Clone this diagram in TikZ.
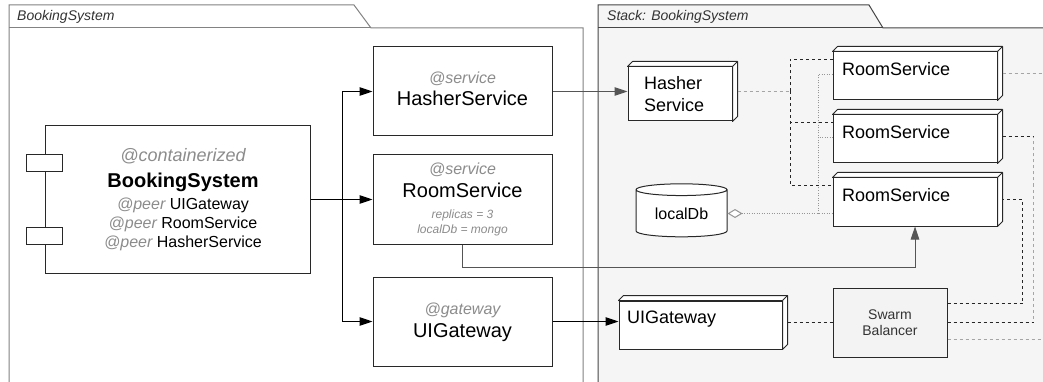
\documentclass[tikz,border=0pt]{standalone}
\usepackage{fontspec}
\setmainfont{Liberation Sans}
\usetikzlibrary{arrows.meta,positioning,shapes.geometric,calc}
\definecolor{pkgclr}{RGB}{130,130,130}
\definecolor{stackbg}{RGB}{245,245,245}
\definecolor{stackbdr}{RGB}{70,70,70}
\definecolor{annclr}{RGB}{140,140,140}
\definecolor{boxbdr}{RGB}{40,40,40}
\definecolor{lnkclr}{RGB}{85,85,85}
\definecolor{softdash}{RGB}{165,165,165}
\definecolor{dotclr}{RGB}{150,150,150}
\definecolor{sbfill}{RGB}{243,243,243}
\newcommand{\fs}[2]{\fontsize{#1}{#2}\selectfont\lineskiplimit=-50pt}
\newcommand{\ann}[1]{{\itshape\color{annclr}#1}}
\newcommand{\pad}{\hspace*{11pt}}
\tikzset{
  lpkg/.style={draw=pkgclr,fill=white,line width=1pt},
  rpkg/.style={draw=stackbdr,fill=stackbg,line width=1pt},
  pkglbl/.style={font=\itshape\fs{14}{16},text=black!80,anchor=base west,inner sep=0pt},
  svcbox/.style={rectangle,draw=boxbdr,fill=white,line width=1pt,
    minimum width=179pt,minimum height=89pt,align=center,inner sep=0pt,
    font=\fs{16}{20}},
  compbox/.style={svcbox,minimum width=265pt,minimum height=147pt,font=\fs{16}{19}},
  portbox/.style={rectangle,draw=boxbdr,fill=white,line width=1pt,
    minimum width=36pt,minimum height=17pt,inner sep=0pt},
  dnode/.style={rectangle,draw=boxbdr,fill=white,line width=1pt,align=left,
    font=\fs{18}{22},inner ysep=2pt},
  rsnode/.style={dnode,inner xsep=9pt,text width=146pt,text height=21.4pt,text depth=22.6pt},
  uinode/.style={dnode,inner xsep=8pt,text width=147pt,text height=20.4pt,text depth=23.6pt},
  hnode/.style={dnode,inner xsep=16pt,inner ysep=0pt,text width=72pt,minimum height=54pt},
  depth/.style={draw=boxbdr,fill=white,line width=1pt,line join=round},
  dbnode/.style={cylinder,shape border rotate=90,aspect=0.22,draw=boxbdr,fill=white,
    line width=1pt,minimum width=91pt,minimum height=53pt,inner sep=0pt,font=\fs{16}{20}},
  sbnode/.style={rectangle,draw=boxbdr,fill=sbfill,line width=1pt,minimum width=114pt,
    minimum height=69pt,align=center,font=\fs{14}{16},text=black!80},
  lnk/.style={draw=black,line width=1pt},
  arr/.style={-{Triangle[length=13pt,width=8.5pt]},line width=1pt,color=black},
  garr/.style={arr,color=lnkclr},
  kdash/.style={line width=1pt,color=black!85,dash pattern=on 3pt off 3pt},
  gdash/.style={line width=1pt,color=softdash,dash pattern=on 3pt off 3pt},
  dotl/.style={line width=1pt,color=dotclr,dash pattern=on 1pt off 1.5pt},
}
\begin{document}
\begin{tikzpicture}[x=1pt,y=-1pt]
  \useasboundingbox (0,0) rectangle (1043,382);
  \clip (0,0) rectangle (1043,382);
  \fill[white] (0,0) rectangle (1043,382);

  % packages
  \filldraw[lpkg] (9,400) -- (9,5) -- (354,5) -- (371,28) -- (583,28) -- (583,400);
  \draw[lpkg] (9,28) -- (371,28);
  \filldraw[rpkg] (598,400) -- (598,5) -- (869,5) -- (883,28) -- (1060,28) -- (1060,400) -- cycle;
  \draw[rpkg] (598,28) -- (883,28);
  \node[pkglbl] (lpkgname) at (17,20.5) {BookingSystem};
  \node[pkglbl] (rpkgname) at (607,20.5) {Stack: BookingSystem};

  % component and services
  \node[compbox] (comp) at (177.5,199.5) {\pad\ann{\fs{18}{22}@containerized}\\[6.6pt]
    \pad{\bfseries\fs{20}{24}BookingSystem}\\[2.7pt]
    \pad\ann{@peer} UIGateway\\
    \pad\ann{@peer} RoomService\\
    \pad\ann{@peer} HasherService};
  \node[portbox] (port1) at ([yshift=36pt]comp.west) {};
  \node[portbox] (port2) at ([yshift=-36pt]comp.west) {};

  \node[svcbox,text depth=5pt] (hsvc) at (462.5,91.5) {\ann{@service}\\[2.3pt]{\fs{20}{24}HasherService}};
  \node[svcbox,below=18pt of hsvc,font=\fs{12}{14.6}] (rsvc) {\ann{\fs{16}{20}@service}\\[7.7pt]
    {\fs{20}{24}RoomService}\\[7.1pt]\ann{replicas = 3}\\\ann{localDb = mongo}};
  \node[svcbox,below=32pt of rsvc,text depth=2pt] (uisvc) {\ann{@gateway}\\[3.3pt]{\fs{20}{24}UIGateway}};

  % stack
  \node[hnode] (hasher) at (680,94) {Hasher\\Service};
  \node[rsnode] (rs1) at (915,76) {RoomService};
  \node[rsnode,below=14pt of rs1] (rs2) {RoomService};
  \node[rsnode,below=14pt of rs2] (rs3) {RoomService};
  \node[dbnode] (db) at (681.5,213.5) {localDb};
  \node[uinode] (uig) at (700.5,325) {UIGateway};
  \node[sbnode] (sb) at (890,322.5) {Swarm\\Balancer};

  \foreach \n in {hasher,rs1,rs2,rs3,uig}{
    \filldraw[depth] (\n.north west) -- ++(5pt,5pt) -- ([shift={(5pt,5pt)}]\n.north east)
      -- ([shift={(5pt,5pt)}]\n.south east) -- (\n.south east) -- (\n.north east) -- cycle;
    \draw[depth] (\n.north east) -- ++(5pt,5pt);
    \coordinate (\n-out) at ([shift={(5pt,2.5pt)}]\n.east);
  }

  % links
  \coordinate (fork) at ([xshift=32pt]comp.east);
  \draw[lnk] (comp.east) -- (fork);
  \foreach \t in {hsvc,rsvc,uisvc} \draw[arr] (fork) |- (\t.west);
  \draw[garr] (hsvc.east) -- (hsvc.east -| hasher.west);
  \draw[arr] (uisvc.east) -- (uisvc.east -| uig.west);
  \draw[garr] (rsvc.south) -- ++(0,23) -| (rs3.south);

  \draw[dotl,{Diamond[fill=white,length=15pt,width=9pt]}-] (db.east) -- (db.east -| rs3.west);
  \coordinate (dbfork) at (818,213.5);
  \draw[dotl] (dbfork) |- ([yshift=1.5pt]rs1.west);
  \draw[dotl] (dbfork) |- ([yshift=1.5pt]rs2.west);

  \coordinate (hfork) at (790,91.5);
  \draw[gdash] (hasher-out) -- (hfork);
  \foreach \r in {rs1,rs2,rs3} \draw[kdash] (hfork) |- ([yshift=-8pt]\r.north west);

  \coordinate (rim) at (1060,0);
  \draw[kdash] (uig-out) -- (sb.west);
  \draw[kdash] ([yshift=-16pt]sb.north east) -- ++(75,0) |- (rs3-out);
  \draw[gdash] (sb.east) -- ++(86,0) |- (rs2-out);
  \draw[kdash] (sb.east) -- ++(86,0);
  \draw[kdash] (rs2-out) -- ++(31,0);
  \draw[gdash] (rs1-out) -- (rs1-out -| rim);
  \draw[gdash] ([yshift=18pt]sb.south east) coordinate (sbout) -- (sbout -| rim);
\end{tikzpicture}
\end{document}
